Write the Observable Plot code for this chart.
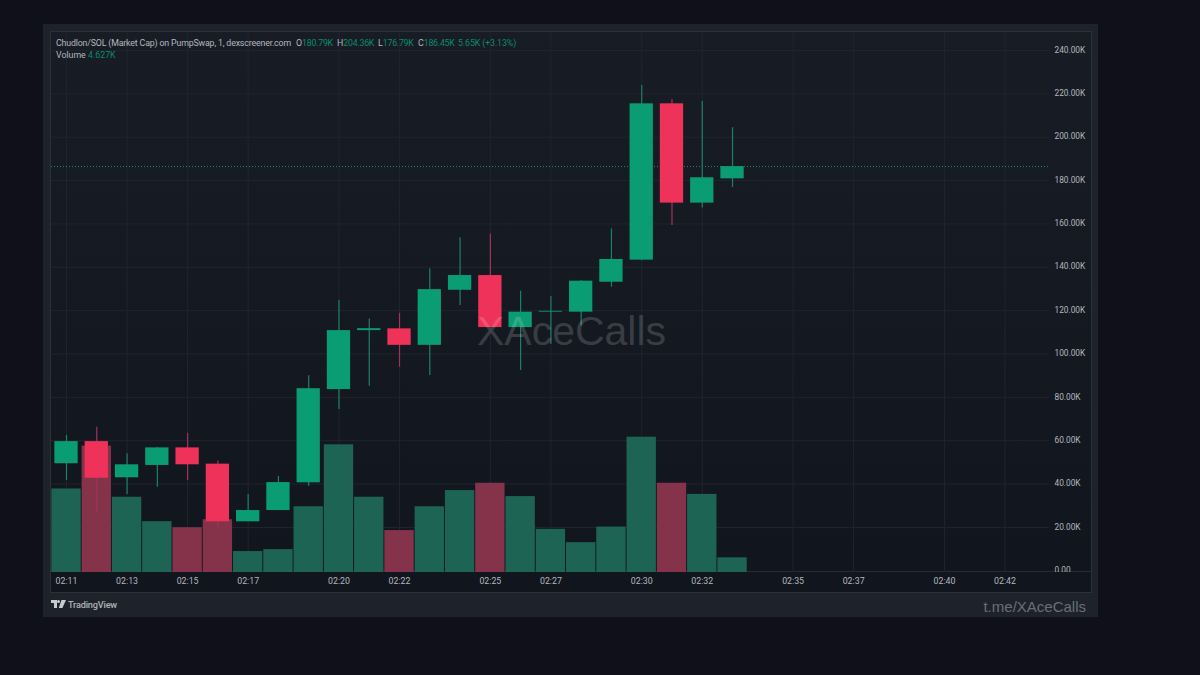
<!DOCTYPE html>
<html>
<head>
<meta charset="utf-8">
<script src="https://cdn.jsdelivr.net/npm/d3@7"></script>
<script src="https://cdn.jsdelivr.net/npm/@observablehq/plot@0.6"></script>
<style>
html,body{margin:0;padding:0;background:#10101a;width:1200px;height:675px;overflow:hidden}
#stage{position:relative;width:1200px;height:675px;font-family:Roboto,sans-serif}
#panel{position:absolute;left:43px;top:24px;width:1055px;height:593px;background:#1e232b}
#chartbg{position:absolute;left:51px;top:32px;width:1040px;height:560px;background:linear-gradient(#181d25,#11151e);box-shadow:0 0 0 1px #2b3039}
#sep{position:absolute;left:51px;top:571px;width:1040px;height:1px;background:#252a33}
#plot{position:absolute;left:0;top:0}
#mask{position:absolute;left:1050px;top:572px;width:41px;height:20px;background:#11151e}
.t{position:absolute;white-space:nowrap;font-size:8.8px;line-height:12px;color:#b4b7bf}
.g{color:#0c8a6a;letter-spacing:-.25px}
#tv{position:absolute;left:51px;top:599px;display:flex;align-items:center;gap:2px;color:#aeb2ba;font-size:9.2px;font-weight:500;letter-spacing:-.2px}
#tme{position:absolute;right:114px;top:597px;font-family:"Liberation Sans",sans-serif;font-size:15px;line-height:20px;color:#696e76}
</style>
</head>
<body>
<div id="stage">
  <div id="panel"></div>
  <div id="chartbg"></div>
  <div id="sep"></div>
  <div id="plot"></div>
  <div id="mask"></div>
  <div class="t" style="left:56px;top:37px;letter-spacing:-.16px">Chudlon/SOL (Market Cap) on PumpSwap, 1, dexscreener.com</div>
  <div class="t" style="left:296px;top:37px">O<span class="g">180.79K</span></div>
  <div class="t" style="left:337px;top:37px">H<span class="g">204.36K</span></div>
  <div class="t" style="left:378px;top:37px">L<span class="g">176.79K</span></div>
  <div class="t" style="left:418px;top:37px">C<span class="g">186.45K</span></div>
  <div class="t g" style="left:458px;top:37px;letter-spacing:-.1px">5.65K (+3.13%)</div>
  <div class="t" style="left:56px;top:49px">Volume</div>
  <div class="t g" style="left:88px;top:49px;letter-spacing:0">4.627K</div>
  <div id="tv"><svg width="15" height="9" viewBox="0 0 15 9"><path fill="#c8cbd1" d="M0 0h6v8H3V3H0zM7.5 0a1.5 1.5 0 1 1 0 3a1.5 1.5 0 0 1 0-3zM10.5 0H15l-3.6 8H7.8z"/></svg><span>TradingView</span></div>
  <div id="tme">t.me/XAceCalls</div>
</div>
<script>
const minutes = [11,12,13,14,15,16,17,18,19,20,21,22,23,24,25,26,27,28,29,30,31,32,33];
const opens  = [49.4,59.6,42.9,48.6,56.7,49.2,22.6,27.8,40.6,83.6,110.8,111.6,104.0,129.4,136.2,112.2,119.3,119.3,133.1,143.3,215.4,169.6,180.79];
const closes = [59.6,42.7,48.9,56.7,48.9,22.6,27.8,40.7,84.0,110.8,111.7,104.0,129.7,136.2,112.2,119.3,119.7,133.6,143.6,215.4,169.6,181.3,186.45];
const highs  = [62.4,66.2,54.0,56.9,63.5,50.6,35.2,43.5,90.0,124.7,116.2,118.8,139.3,153.6,155.4,129.0,126.5,133.8,157.7,223.8,217.4,216.6,204.36];
const lows   = [41.7,26.6,35.2,38.6,41.6,19.8,22.6,27.8,38.9,74.4,85.1,93.9,90.1,122.4,112.2,92.4,104.4,113.0,130.8,143.0,159.3,167.4,176.79];
const volumes= [26.3,39.8,23.7,16.0,14.1,16.6,6.6,7.2,20.7,40.2,23.7,13.2,20.7,25.8,28.1,23.9,13.6,9.4,14.3,42.6,28.1,24.6,4.627];
const tickMinutes = [11,13,15,17,20,22,25,27,30,32,35,37,40,42];
const priceTicks = [0,20,40,60,80,100,120,140,160,180,200,220,240];
const lastClose = 186.45;
const volumeToPrice = 1.465;
const volumeBase = -0.78;

const rows = minutes.map((m,i)=>({m,o:opens[i],c:closes[i],h:highs[i],l:lows[i],v:volumes[i],up:closes[i]>=opens[i]}));
const GREEN="#0a9c72", RED="#ef3259", VGREEN="#1d6455", VRED="#84334b", WGREEN="#1f8069", WRED="#a33358", GRID="#20252d", TICK="#b4b7bf";

const chart = Plot.plot({
  width:1200, height:675,
  marginLeft:51, marginRight:151, marginTop:32, marginBottom:103,
  style:{background:"transparent",fontFamily:"Roboto,sans-serif",fontSize:"8.8px",color:TICK},
  x:{type:"linear",domain:[10.504,43.47]},
  y:{domain:[volumeBase,248.3]},
  marks:[
    Plot.ruleX(tickMinutes,{stroke:GRID,strokeWidth:1}),
    Plot.ruleY(priceTicks.filter(d=>d>0),{stroke:GRID,strokeWidth:1}),
    Plot.rect(rows,{x1:d=>d.m-0.485,x2:d=>d.m+0.485,y1:volumeBase,y2:d=>volumeBase+d.v*volumeToPrice,fill:d=>d.up?VGREEN:VRED,inset:0}),
    Plot.ruleY([lastClose],{stroke:"#1c8a70",strokeWidth:1,strokeDasharray:"1,2"}),
    Plot.ruleX(rows,{x:"m",y1:"l",y2:"h",stroke:d=>d.up?WGREEN:WRED,strokeWidth:1.2}),
    Plot.rect(rows,{x1:d=>d.m-0.385,x2:d=>d.m+0.385,y1:"o",y2:"c",fill:d=>d.up?GREEN:RED}),
    Plot.text(["XAceCalls"],{frameAnchor:"middle",dx:21,dy:29,text:d=>d,fontSize:41,fontFamily:"Liberation Sans, sans-serif",fill:"#ffffff",fillOpacity:0.17}),
    Plot.axisX({ticks:tickMinutes,tickFormat:d=>"02:"+d,tickSize:0,tickPadding:5,anchor:"bottom",label:null,fill:TICK}),
    Plot.axisY({ticks:priceTicks,tickFormat:d=>d===0?"0.00":d.toFixed(2)+"K",tickSize:0,tickPadding:5,anchor:"right",label:null,fill:TICK,fontSize:8.3,dy:-0.5})
  ]
});
document.getElementById("plot").append(chart);
</script>
</body>
</html>
